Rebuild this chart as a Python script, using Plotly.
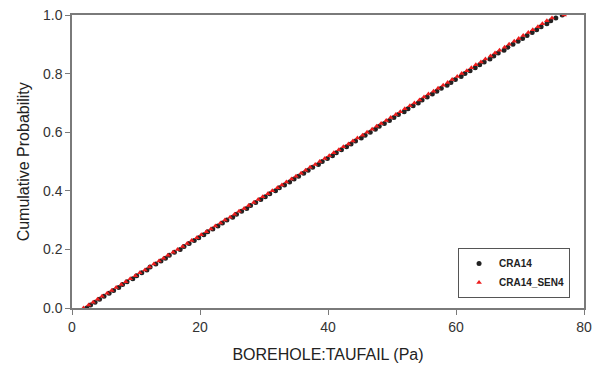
import plotly.graph_objects as go

cum_prob = [i / 100 for i in range(101)]

cra14_x = [2.3, 2.9, 3.6, 4.3, 5.0, 5.8, 6.5, 7.3, 7.9, 8.6,
           9.5, 10.1, 10.9, 11.7, 12.2, 13.1, 13.9, 14.6, 15.2, 16.0,
           16.9, 17.5, 18.3, 19.1, 19.8, 20.6, 21.2, 22.0, 22.8, 23.5,
           24.2, 25.1, 25.7, 26.5, 27.3, 27.9, 28.7, 29.5, 30.2, 30.9,
           31.8, 32.4, 33.2, 34.0, 34.7, 35.4, 36.2, 36.9, 37.6, 38.5,
           39.1, 39.9, 40.7, 41.3, 42.1, 42.9, 43.6, 44.3, 45.2, 45.8,
           46.6, 47.4, 48.0, 48.8, 49.6, 50.3, 51.0, 51.9, 52.5, 53.3,
           54.1, 54.7, 55.5, 56.3, 57.0, 57.7, 58.6, 59.2, 59.9, 60.8,
           61.4, 62.2, 63.0, 63.7, 64.4, 65.3, 65.9, 66.6, 67.5, 68.1,
           68.9, 69.7, 70.4, 71.1, 71.9, 72.6, 73.3, 74.2, 74.8, 75.6, 76.6]

cra14_sen4_x = [1.8, 2.6, 3.3, 4.0, 4.7, 5.5, 6.2, 6.9, 7.7, 8.4,
                9.1, 9.9, 10.6, 11.4, 12.1, 12.8, 13.6, 14.3, 15.0, 15.8,
                16.5, 17.3, 18.0, 18.7, 19.5, 20.2, 21.0, 21.7, 22.4, 23.2,
                23.9, 24.7, 25.4, 26.1, 26.9, 27.6, 28.4, 29.1, 29.8, 30.6,
                31.3, 32.1, 32.8, 33.5, 34.3, 35.0, 35.8, 36.5, 37.2, 38.0,
                38.7, 39.5, 40.2, 40.9, 41.7, 42.4, 43.2, 43.9, 44.6, 45.4,
                46.1, 46.9, 47.6, 48.3, 49.1, 49.8, 50.6, 51.3, 52.0, 52.8,
                53.5, 54.3, 55.0, 55.7, 56.5, 57.2, 58.0, 58.7, 59.4, 60.2,
                60.9, 61.7, 62.4, 63.1, 63.9, 64.6, 65.4, 66.1, 66.8, 67.6,
                68.3, 69.1, 69.8, 70.5, 71.3, 72.0, 72.8, 73.5, 74.2, 75.0, 76.9]

x_ticks = [0, 20, 40, 60, 80]
y_ticks = [0.0, 0.2, 0.4, 0.6, 0.8, 1.0]

FONT = "Arial, Liberation Sans"

fig = go.Figure()
fig.add_trace(go.Scatter(
    x=cra14_x, y=cum_prob, mode="markers", name="CRA14",
    marker=dict(symbol="circle", size=5, color="#222222"),
))
fig.add_trace(go.Scatter(
    x=cra14_sen4_x, y=cum_prob, mode="markers", name="CRA14_SEN4",
    marker=dict(symbol="triangle-up", size=5, color="#ee1c1c"),
))

axis_common = dict(
    showgrid=False, zeroline=False, showline=True, linecolor="#7a7a7a",
    linewidth=1.5, mirror=True, ticks="outside", ticklen=5, tickwidth=1.2,
    tickcolor="#7a7a7a", automargin=False,
    tickfont=dict(family=FONT, size=14, color="#333333"),
)

fig.update_layout(
    width=595, height=365,
    margin=dict(l=72, r=11, t=15, b=57),
    paper_bgcolor="white", plot_bgcolor="white",
    xaxis=dict(range=[0, 80], tickvals=x_ticks,
               title=dict(text="BOREHOLE:TAUFAIL (Pa)",
                          font=dict(family=FONT, size=16, color="#222222")),
               **axis_common),
    yaxis=dict(range=[0, 1.0], tickvals=y_ticks, tickformat=".1f",
               **axis_common),
    legend=dict(x=0.754, y=0.205, xanchor="left", yanchor="top",
                bordercolor="#555555", borderwidth=1, bgcolor="white",
                font=dict(family=FONT, size=10, color="#222222", weight="bold"),
                itemwidth=30, tracegroupgap=0),
    showlegend=True,
    annotations=[dict(
        text="Cumulative Probability", xref="paper", yref="paper",
        x=-0.094, y=0.5, xanchor="center", yanchor="middle", textangle=-90,
        showarrow=False, font=dict(family=FONT, size=16, color="#222222"),
    )],
)

fig.write_html("out.html")
